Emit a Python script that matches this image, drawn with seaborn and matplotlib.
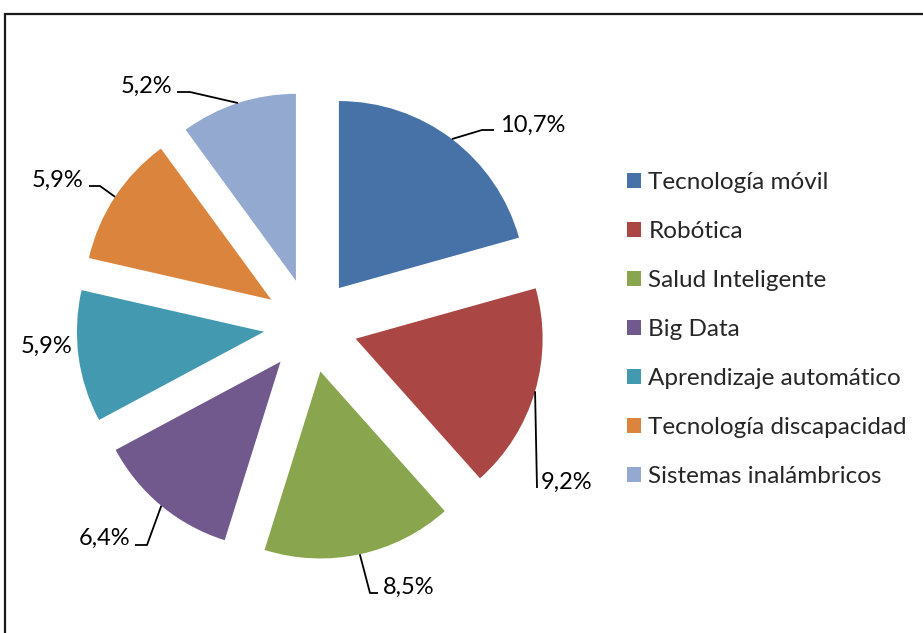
import numpy as np
import matplotlib
matplotlib.use("Agg")
import matplotlib.pyplot as plt
import seaborn as sns
from matplotlib.patches import Rectangle

# ---- data ----
categories = ["Tecnología móvil", "Robótica", "Salud Inteligente", "Big Data",
              "Aprendizaje automático", "Tecnología discapacidad", "Sistemas inalámbricos"]
values = [10.7, 9.2, 8.5, 6.4, 5.9, 5.9, 5.2]
colors = ["#4672A8", "#AA4744", "#89A54E", "#71598E", "#4399B0", "#DB843D", "#94A9CF"]

sns.set_theme(style="white")
plt.rcParams['font.family'] = ['Lato', 'DejaVu Sans']

W, H = 923, 633
fig = plt.figure(figsize=(W / 100, H / 100), dpi=100)
fig.patch.set_facecolor("white")
ax = fig.add_axes([0, 0, 1, 1])


def Y(yp):
    return H - yp


cx, cy = 310.5, Y(325.5)
R = 187
explode = 47  # matplotlib applies explode as an absolute offset in data units

pal = sns.color_palette(colors)
wedges, _ = ax.pie(values, colors=pal, startangle=90, counterclock=False,
                   explode=[explode] * len(values), radius=R, center=(cx, cy),
                   wedgeprops=dict(linewidth=0), frame=True)
ax.set_xlim(0, W)
ax.set_ylim(0, H)
ax.set_aspect("equal")
ax.axis("off")

fs = 17
# label layout: (text anchor x, baseline y, ha, leader path points after arc point)
layout = [
    (500, 132, "left", [(482, 130), (494, 130)]),
    (541, 489, "left", [(537, 488)]),
    (383, 594, "left", [(370, 593), (378, 593)]),
    (130, 545, "right", [(147, 545), (135, 545)]),
    (72, 353, "right", None),
    (83, 187, "right", [(100, 186), (89, 186)]),
    (172, 93, "right", [(190, 92), (177, 92)]),
]

for w, v, (tx, ty, ha, path) in zip(wedges, values, layout):
    lab = f"{v:.1f}".replace(".", ",") + "%"
    ax.text(tx, Y(ty), lab, ha=ha, va="baseline", fontsize=fs, color="black")
    if path:
        th = np.deg2rad((w.theta1 + w.theta2) / 2)
        x0, y0 = w.center[0] + R * np.cos(th), w.center[1] + R * np.sin(th)
        xs = [x0] + [p[0] for p in path]
        ys = [y0] + [Y(p[1]) for p in path]
        ax.plot(xs, ys, color="black", lw=1.3, solid_capstyle="butt")

leg = fig.legend(wedges, categories, loc="upper left",
                 bbox_to_anchor=(627 / W, 1 - 172 / H), frameon=False,
                 fontsize=17.5, handlelength=0.58, handleheight=0.58,
                 handletextpad=0.3, labelspacing=1.15, borderpad=0,
                 borderaxespad=0)

fig.patches.append(Rectangle((5 / W, -0.05), 1.1, 1 - 14 / H + 0.05,
                             transform=fig.transFigure, fill=False,
                             edgecolor="#1a1a1a", linewidth=1.6))

fig.savefig("out.png", dpi=100, facecolor="white")
